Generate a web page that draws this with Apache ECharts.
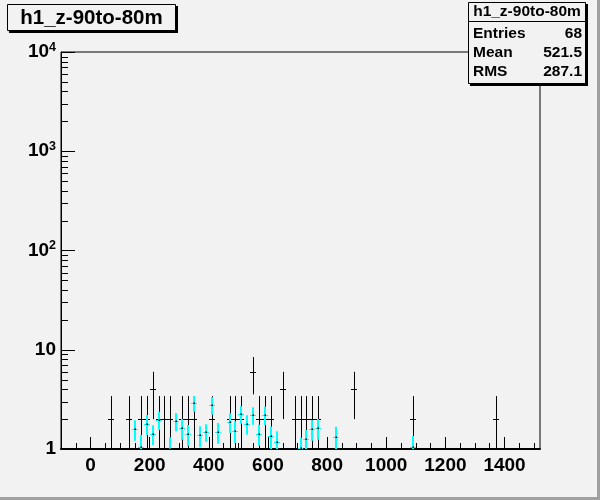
<!DOCTYPE html>
<html><head><meta charset="utf-8">
<script src="https://cdn.jsdelivr.net/npm/echarts@6/dist/echarts.min.js"></script>
<style>html,body{margin:0;padding:0;background:#f2f2f2}#c{width:600px;height:500px}</style>
</head><body><div id="c"></div>
<script>
// ---- data ----
const histName = 'h1_z-90to-80m';
const statLabels = ['Entries', 'Mean', 'RMS'];
const statValues = ['68', '521.5', '287.1'];
const binWidth = 20;
const xMin = -100, xMax = 1520;
const yMin = 1, yMax = 10000;

// black histogram (bin centre, content, error)
const blackX = [70,130,170,190,210,230,250,270,310,330,350,410,470,490,510,550,570,590,610,650,690,710,730,750,770,890,1090,1370];
const blackY = [2,2,2,2,4,2,2,2,2,2,2,2,2,2,2,6,2,2,2,4,2,2,2,2,2,4,2,2];
const blackErr = [1.41,1.41,1.41,1.41,2,1.41,1.41,1.41,1.41,1.41,1.41,1.41,1.41,1.41,1.41,2.45,1.41,1.41,1.41,2,1.41,1.41,1.41,1.41,1.41,2,1.41,1.41];

// cyan histogram
const cyanX = [150,170,190,210,230,270,290,310,330,350,370,390,410,430,470,490,510,530,550,570,590,610,630,710,730,750,770,830,1090];
const cyanY = [1.58,1.05,1.79,1.42,1.96,1.0,1.91,1.62,1.41,2.89,1.37,1.48,2.77,1.48,1.87,1.52,2.25,1.79,2.2,1.42,2.2,1.34,1.18,1.02,1.25,1.58,1.62,1.31,1.05];
const cyanErr = [0.37,0.33,0.41,0.32,0.41,0.31,0.40,0.38,0.34,0.52,0.33,0.30,0.56,0.35,0.42,0.37,0.45,0.40,0.44,0.34,0.46,0.35,0.33,0.28,0.30,0.37,0.38,0.37,0.30];

// axis ticks
const xMajorTicks = [0,200,400,600,800,1000,1200,1400];
const xMinorTicks = [-50,50,100,150,250,300,350,450,500,550,650,700,750,850,900,950,1050,1100,1150,1250,1300,1350,1450,1500];
const yMinorTicks = [2,3,4,5,6,7,8,9,20,30,40,50,60,70,80,90,200,300,400,500,600,700,800,900,2000,3000,4000,5000,6000,7000,8000,9000];

const FONT = '"Liberation Sans", Arial, Helvetica, sans-serif';

function errSeries(xs, ys, es, color, vw, hw, dot) {
  return {
    type: 'custom', xAxisIndex: 0, yAxisIndex: 0, clip: true, z: 3,
    data: xs.map((x, i) => [x, ys[i], es[i]]),
    encode: { x: 0, y: 1 },
    renderItem: function (params, api) {
      const x = api.value(0), y = api.value(1), e = api.value(2);
      const lo = Math.max(y - e, yMin), hi = y + e;
      const pc = api.coord([x, y]);
      const pl = api.coord([x, lo]), ph = api.coord([x, hi]);
      const pa = api.coord([x - binWidth / 2, y]), pb = api.coord([x + binWidth / 2, y]);
      const vx = vw % 2 ? Math.round(pc[0]) + 0.5 : Math.round(pc[0]);
      const hy = hw % 2 ? Math.round(pc[1]) + 0.5 : Math.round(pc[1]);
      const children = [
        { type: 'line', shape: { x1: vx, y1: pl[1], x2: vx, y2: ph[1] }, style: { stroke: color, lineWidth: vw } },
        { type: 'line', shape: { x1: Math.round(pa[0]), y1: hy, x2: Math.round(pb[0]), y2: hy }, style: { stroke: color, lineWidth: hw } }
      ];
      if (dot) children.push({ type: 'rect', shape: { x: Math.round(pc[0]) - 0.5, y: Math.round(pc[1]) - 0.5, width: 1.5, height: 1.5 }, style: { fill: '#000' } });
      return { type: 'group', children: children };
    }
  };
}

const chart = echarts.init(document.getElementById('c'), null, { renderer: 'canvas' });
const statRowY = [33.5, 52.5, 71.5];
const graphics = [
  // canvas bevel
  { type: 'rect', shape: { x: 0, y: 497, width: 600, height: 3 }, style: { fill: '#a0a0a0' }, silent: true },
  { type: 'rect', shape: { x: 597, y: 0, width: 3, height: 500 }, style: { fill: '#a0a0a0' }, silent: true },
  // title box
  { type: 'rect', shape: { x: 9, y: 6, width: 169, height: 27 }, style: { fill: '#000' }, z: 10 },
  { type: 'rect', shape: { x: 7.5, y: 4.5, width: 168, height: 26 }, style: { fill: '#f2f2f2', stroke: '#000', lineWidth: 1 }, z: 11 },
  { type: 'text', x: 91.5, y: 18, style: { text: histName, font: 'bold 20.5px ' + FONT, fill: '#000', align: 'center', verticalAlign: 'middle' }, z: 12 },
  // stats box
  { type: 'rect', shape: { x: 470, y: 4, width: 118, height: 82 }, style: { fill: '#000' }, z: 10 },
  { type: 'rect', shape: { x: 468.5, y: 2.5, width: 117, height: 81 }, style: { fill: '#f2f2f2', stroke: '#000', lineWidth: 1 }, z: 11 },
  { type: 'line', shape: { x1: 468.5, y1: 21.5, x2: 585.5, y2: 21.5 }, style: { stroke: '#000', lineWidth: 1 }, z: 12 },
  { type: 'text', x: 527, y: 12, style: { text: histName, font: 'bold 15.5px ' + FONT, fill: '#000', align: 'center', verticalAlign: 'middle' }, z: 12 }
];
statLabels.forEach((l, i) => {
  graphics.push({ type: 'text', x: 473, y: statRowY[i], style: { text: l, font: 'bold 15.5px ' + FONT, fill: '#000', align: 'left', verticalAlign: 'middle' }, z: 12 });
  graphics.push({ type: 'text', x: 582, y: statRowY[i], style: { text: statValues[i], font: 'bold 15.5px ' + FONT, fill: '#000', align: 'right', verticalAlign: 'middle' }, z: 12 });
});

chart.setOption({
  animation: false,
  backgroundColor: '#f2f2f2',
  grid: { left: 61, right: 60, top: 52, bottom: 51, show: true, borderColor: '#000', borderWidth: 1, backgroundColor: 'transparent' },
  xAxis: [
    {
      type: 'value', min: xMin, max: xMax, position: 'bottom',
      axisLine: { show: true, onZero: false, lineStyle: { color: '#000', width: 2 } },
      axisTick: { show: true, inside: true, length: 12, customValues: xMajorTicks, lineStyle: { color: '#000', width: 1 } },
      axisLabel: { show: true, customValues: xMajorTicks, margin: 7, color: '#000', fontFamily: FONT, fontWeight: 'bold', fontSize: 19,
        formatter: function (v) { return String(v); } },
      splitLine: { show: false }
    },
    {
      type: 'value', min: xMin, max: xMax, position: 'bottom',
      axisLine: { show: false },
      axisTick: { show: true, inside: true, length: 6, customValues: xMinorTicks, lineStyle: { color: '#000', width: 1 } },
      axisLabel: { show: false },
      splitLine: { show: false }
    }
  ],
  yAxis: {
    type: 'log', logBase: 10, min: yMin, max: yMax,
    axisLine: { show: true, onZero: false, lineStyle: { color: '#000', width: 1 } },
    axisTick: { show: true, inside: true, length: 14, lineStyle: { color: '#000', width: 1 } },
    axisLabel: {
      show: true, margin: 5, color: '#000', fontFamily: FONT, fontWeight: 'bold', fontSize: 19,
      formatter: function (v) {
        const n = Math.round(Math.log10(v));
        if (n === 0) return '1';
        if (n === 1) return '10';
        return '10{sup|' + n + '}';
      },
      rich: { sup: { fontSize: 12.5, fontWeight: 'bold', fontFamily: FONT, color: '#000', verticalAlign: 'top', padding: [0, 0, 9, 0] } }
    },
    splitLine: { show: false }
  },
  graphic: graphics,
  series: [
    {
      type: 'custom', xAxisIndex: 0, yAxisIndex: 0, clip: false, silent: true, z: 2,
      data: yMinorTicks.map(v => [xMin, v]),
      encode: { x: 0, y: 1 },
      renderItem: function (params, api) {
        const p = api.coord([api.value(0), api.value(1)]);
        const yy = Math.round(p[1]) + 0.5;
        return { type: 'line', shape: { x1: p[0], y1: yy, x2: p[0] + 7, y2: yy }, style: { stroke: '#000', lineWidth: 1 } };
      }
    },
    errSeries(blackX, blackY, blackErr, '#000', 1, 1, false),
    errSeries(cyanX, cyanY, cyanErr, '#00ffff', 2, 1, true)
  ]
});
</script></body></html>
